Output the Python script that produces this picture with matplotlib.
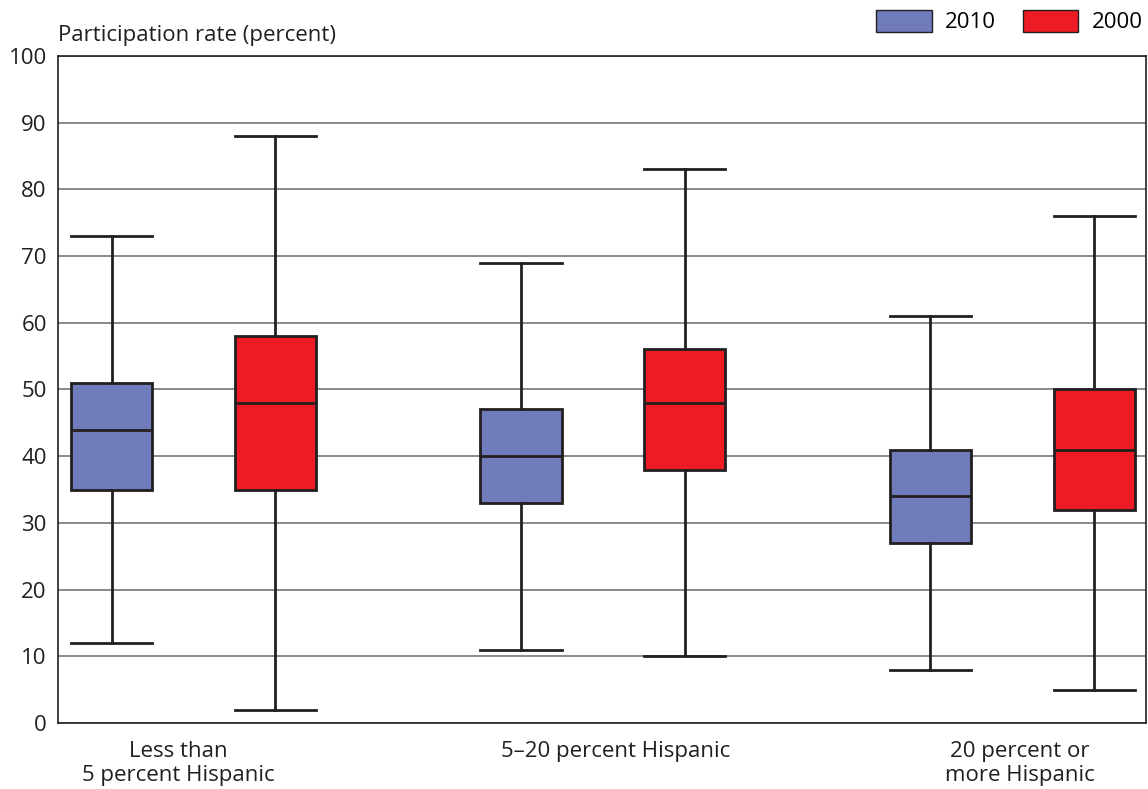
import matplotlib.pyplot as plt
from matplotlib.patches import Patch

plt.rcParams['font.family'] = ['Open Sans', 'DejaVu Sans']

# Participation rate by share of Hispanic population
grupos = ['Less than\n5 percent Hispanic', '5\u201320 percent Hispanic', '20 percent or\nmore Hispanic']
anos = ['2010', '2000']
cores = ['#6f7bbb', '#ed1c24']

# whisker low, Q1, median, Q3, whisker high
stats_2010 = [(12, 35, 44, 51, 73), (11, 33, 40, 47, 69), (8, 27, 34, 41, 61)]
stats_2000 = [(2, 35, 48, 58, 88), (10, 38, 48, 56, 83), (5, 32, 41, 50, 76)]

fs = 16

fig = plt.figure(figsize=(11.48, 7.89), dpi=100)
ax = fig.add_axes([0.0505, 0.0837, 0.9475, 0.8453])

def montar(stats):
    return [dict(whislo=s[0], q1=s[1], med=s[2], q3=s[3], whishi=s[4], fliers=[]) for s in stats]

linha = dict(color='#231f20', linewidth=2)
for i, (stats, cor) in enumerate(zip([stats_2010, stats_2000], cores)):
    pos = [g + (-0.2 if i == 0 else 0.2) for g in range(len(grupos))]
    ax.bxp(montar(stats), positions=pos, widths=0.198, patch_artist=True,
           showfliers=False, boxprops=dict(facecolor=cor, edgecolor='#231f20', linewidth=2),
           medianprops=linha, whiskerprops=linha, capprops=linha, capwidths=0.198,
           zorder=3)

ax.set_xlim(-0.331, 2.326)
ax.set_ylim(0, 100)
ax.set_yticks(range(0, 101, 10))
ax.yaxis.grid(True, color='#808080', linewidth=1.3)
ax.set_axisbelow(True)
ax.tick_params(axis='y', length=0, labelsize=fs, pad=8, colors='#231f20')
ax.tick_params(axis='x', length=0, labelsize=fs, pad=13, colors='#231f20')
ax.set_xticks([-0.038, 1.03, 2.018])
ax.set_xticklabels(grupos, linespacing=1.2)
for s in ax.spines.values():
    s.set_color('#231f20')
    s.set_linewidth(1.2)

fig.text(0.0505, 0.948, 'Participation rate (percent)', fontsize=fs, color='#231f20', va='baseline')

handles = [Patch(facecolor=c, edgecolor='#231f20', linewidth=1) for c in cores]
fig.legend(handles, anos, loc='upper right', bbox_to_anchor=(1.007, 1.004), ncol=2, frameon=False,
           fontsize=fs, handlelength=2.5, handleheight=1.1, columnspacing=1.2, handletextpad=0.6,
           borderaxespad=0.2)

plt.savefig('out.png', dpi=100)
